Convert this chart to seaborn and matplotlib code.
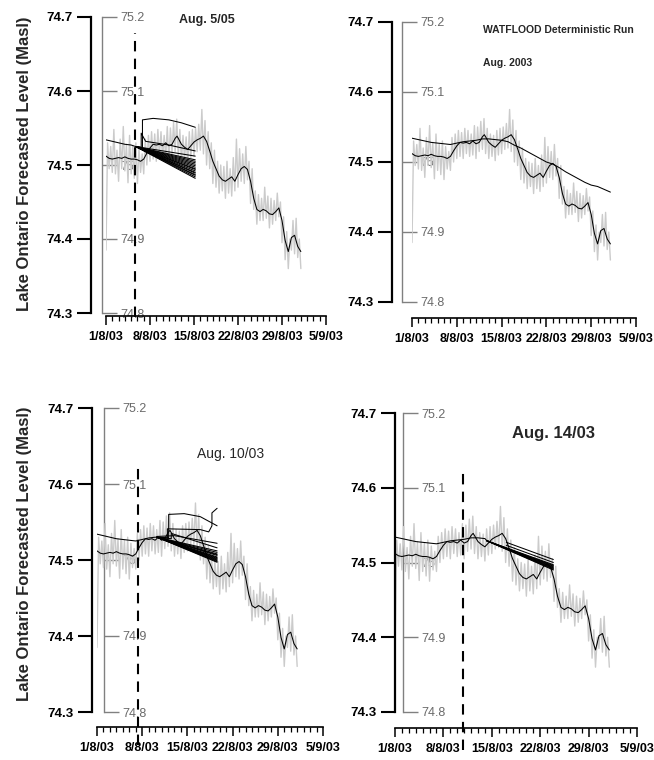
import numpy as np
import pandas as pd
import matplotlib
matplotlib.use("Agg")
import matplotlib.pyplot as plt
import seaborn as sns
from matplotlib.ticker import MultipleLocator, FuncFormatter, FixedLocator

sns.set_theme(style="ticks")
plt.rcParams["font.family"] = ["Liberation Sans", "DejaVu Sans"]

# ---------------- data (days since 1 Aug 2003 00:00) ----------------
obs_days = [0.0, 0.5, 1.0, 1.5, 2.0, 2.5, 3.0, 3.5, 4.0, 4.5, 5.0, 5.5, 6.0, 6.5, 7.0, 7.5,
            8.0, 8.5, 9.0, 9.5, 10.0, 10.5, 11.0, 11.3, 11.5, 12.0, 12.5, 13.0, 13.5, 14.0,
            14.5, 15.0, 15.5, 16.0, 16.5, 17.0, 17.5, 18.0, 18.5, 19.0, 19.5, 20.0, 20.5,
            21.0, 21.5, 22.0, 22.5, 23.0, 23.5, 24.0, 24.5, 25.0, 25.5, 26.0, 26.5, 27.0,
            27.5, 28.0, 28.5, 29.0, 29.5, 30.0, 30.5, 31.0]
obs_level = [74.512, 74.509, 74.508, 74.509, 74.510, 74.509, 74.511, 74.509, 74.508, 74.508,
             74.507, 74.505, 74.508, 74.516, 74.523, 74.528, 74.527, 74.528, 74.526, 74.530,
             74.526, 74.528, 74.536, 74.539, 74.536, 74.528, 74.524, 74.521, 74.526, 74.531,
             74.534, 74.536, 74.539, 74.532, 74.519, 74.505, 74.495, 74.485, 74.480, 74.478,
             74.481, 74.484, 74.478, 74.487, 74.495, 74.498, 74.494, 74.478, 74.455, 74.440,
             74.437, 74.440, 74.438, 74.434, 74.433, 74.437, 74.442, 74.425, 74.398, 74.383,
             74.402, 74.405, 74.390, 74.383]

det_days = list(range(32))
det_level = [74.534, 74.532, 74.530, 74.528, 74.527, 74.526, 74.525, 74.527, 74.529, 74.530,
             74.531, 74.533, 74.533, 74.532, 74.531, 74.529, 74.524, 74.520, 74.515, 74.510,
             74.505, 74.500, 74.497, 74.492, 74.486, 74.481, 74.476, 74.471, 74.467, 74.465,
             74.461, 74.457]

# hourly-ish observed record, sampled every 6 h
gray_level = [
    74.385, 74.530, 74.495, 74.525,  74.490, 74.548, 74.488, 74.520,
    74.478, 74.535, 74.495, 74.552,  74.492, 74.528, 74.476, 74.540,
    74.488, 74.526, 74.482, 74.530,  74.475, 74.522, 74.490, 74.515,
    74.488, 74.535, 74.500, 74.540,  74.505, 74.545, 74.508, 74.542,
    74.505, 74.548, 74.512, 74.545,  74.508, 74.540, 74.510, 74.552,
    74.505, 74.550, 74.515, 74.558,  74.518, 74.562, 74.512, 74.548,
    74.505, 74.540, 74.508, 74.538,  74.502, 74.545, 74.510, 74.548,
    74.512, 74.550, 74.518, 74.555,  74.520, 74.575, 74.515, 74.560,
    74.500, 74.545, 74.495, 74.530,  74.475, 74.520, 74.470, 74.505,
    74.462, 74.500, 74.465, 74.498,  74.455, 74.505, 74.462, 74.495,
    74.458, 74.510, 74.465, 74.535,  74.470, 74.522, 74.478, 74.515,
    74.475, 74.525, 74.480, 74.505,  74.448, 74.495, 74.440, 74.465,
    74.420, 74.460, 74.425, 74.455,  74.425, 74.470, 74.428, 74.458,
    74.415, 74.455, 74.420, 74.452,  74.425, 74.462, 74.430, 74.450,
    74.395, 74.430, 74.372, 74.410,  74.360, 74.400, 74.385, 74.425,
    74.380, 74.428, 74.375, 74.400,  74.360]
gray_days = np.arange(len(gray_level)) * 0.25

xtick_days = [0, 7, 14, 21, 28, 35]
xtick_labels = ["1/8/03", "8/8/03", "15/8/03", "22/8/03", "29/8/03", "5/9/03"]
left_ticks = [74.3, 74.4, 74.5, 74.6, 74.7]
right_ticks = [74.8, 74.9, 75.0, 75.1, 75.2]

# ensemble forecasts
fan1_start_day, fan1_start_level, fan1_end_day = 4.7, 74.525, 14.2
fan1_end_levels = [74.482, 74.484, 74.486, 74.487, 74.489, 74.490, 74.492, 74.494, 74.495,
                   74.497, 74.499, 74.501, 74.503, 74.505, 74.507, 74.512]
fan1_extra = [
    ([4.7, 5.8, 5.8, 7.5, 10.0, 12.0, 14.2], [74.525, 74.523, 74.561, 74.563, 74.561, 74.557, 74.551]),
    ([4.7, 5.6, 5.6, 6.3, 10.0, 14.2], [74.525, 74.524, 74.543, 74.532, 74.527, 74.519]),
]
fan3_start_day, fan3_start_level, fan3_end_day = 9.3, 74.530, 18.6
fan3_end_levels = [74.497, 74.498, 74.499, 74.500, 74.501, 74.502, 74.503, 74.504, 74.506,
                   74.507, 74.508, 74.510, 74.512]
fan3_extra = [
    ([9.3, 11.1, 11.1, 13.5, 16.0, 18.6], [74.530, 74.529, 74.560, 74.561, 74.557, 74.545]),
    ([9.3, 10.9, 10.9, 16.0, 17.3, 17.8, 17.8, 18.6],
     [74.530, 74.529, 74.541, 74.540, 74.537, 74.545, 74.562, 74.568]),
    ([9.3, 12.0, 18.6], [74.531, 74.532, 74.522]),
    ([9.3, 11.5, 11.5, 18.6], [74.530, 74.528, 74.535, 74.516]),
]
fan4_start_day, fan4_start_level, fan4_end_day = 13.3, 74.529, 22.9
fan4_end_levels = [74.490, 74.491, 74.492, 74.493, 74.494, 74.495, 74.496, 74.497]
fan4_extra = [
    ([16.1, 22.9], [74.527, 74.504]),
    ([16.1, 22.9], [74.523, 74.500]),
]

# ---------------- layout (pixels) ----------------
W, H = 654, 760
fig = plt.figure(figsize=(W / 100, H / 100), dpi=100)
fig.patch.set_facecolor("white")

panels = [
    # xl, xr, y74.7, y74.3, y_xaxis, black spine x, gray axis x
    dict(xl=106, xr=326, yt=17, y3=313, yb=316, xs=91, xg=102),
    dict(xl=412, xr=636, yt=22, y3=302, yb=318, xs=392, xg=402),
    dict(xl=97, xr=323, yt=408, y3=712, yb=727, xs=92, xg=104),
    dict(xl=395, xr=637, yt=413, y3=712, yb=728, xs=395, xg=403),
]
fans = [
    (fan1_start_day, fan1_start_level, fan1_end_day, fan1_end_levels, fan1_extra),
    None,
    (fan3_start_day, fan3_start_level, fan3_end_day, fan3_end_levels, fan3_extra),
    (fan4_start_day, fan4_start_level, fan4_end_day, fan4_end_levels, fan4_extra),
]
dashed = [(4.6, 74.678, 74.294), None, (6.35, 74.625, 74.257), (9.83, 74.621, 74.249)]

for i, p in enumerate(panels):
    ppu = (p["y3"] - p["yt"]) / 0.4
    ybot = 74.3 - (p["yb"] - p["y3"]) / ppu
    rect = [p["xl"] / W, 1 - p["yb"] / H, (p["xr"] - p["xl"]) / W, (p["yb"] - p["yt"]) / H]
    ax = fig.add_axes(rect)
    ax.set_facecolor("none")
    ax.set_xlim(0, 35)
    ax.set_ylim(ybot, 74.7)

    sns.lineplot(x=gray_days, y=gray_level, ax=ax, color="#cbcbcb", lw=1.0,
                 estimator=None, sort=False)
    sns.lineplot(x=obs_days, y=obs_level, ax=ax, color="black", lw=0.75,
                 estimator=None, sort=False)

    fan = fans[i]
    if fan is None:
        sns.lineplot(x=det_days, y=det_level, ax=ax, color="black", lw=0.75,
                     estimator=None, sort=False)
    else:
        sd, sl, ed, ends, extra = fan
        dd = [d for d in det_days if d <= sd] + [sd]
        dl = det_level[:len(dd) - 1] + [sl]
        sns.lineplot(x=dd, y=dl, ax=ax, color="black", lw=0.75, estimator=None, sort=False)
        rows = []
        m = 0
        for e in ends:
            rows += [(m, sd, sl), (m, ed, e)]
            m += 1
        for xs_, ys_ in extra:
            rows += [(m, a, b) for a, b in zip(xs_, ys_)]
            m += 1
        df = pd.DataFrame(rows, columns=["member", "day", "level"])
        sns.lineplot(data=df, x="day", y="level", units="member", estimator=None,
                     sort=False, color="black", lw=0.75, ax=ax, legend=False)

    if dashed[i] is not None:
        dx, dtop, dbot = dashed[i]
        ax.vlines(dx, dbot, dtop, colors="black", lw=1.5, linestyles=(0, (5, 3.5)),
                  clip_on=False, zorder=5)

    ax.set_xlabel("")
    ax.set_ylabel("")
    for s in ("top", "right"):
        ax.spines[s].set_visible(False)

    # black primary y axis
    width = p["xr"] - p["xl"]
    ax.spines["left"].set_position(("axes", (p["xs"] - p["xl"]) / width))
    ax.spines["left"].set_bounds(74.3, 74.7)
    ax.spines["left"].set_linewidth(1.6)
    ax.spines["left"].set_color("black")
    ax.yaxis.set_major_locator(FixedLocator(left_ticks))
    ax.yaxis.set_major_formatter(FuncFormatter(lambda v, pos: f"{v:.1f}"))
    ax.tick_params(axis="y", left=True, length=10, width=1.5, color="black",
                   labelsize=9.5, pad=3, labelcolor="black")
    for lbl in ax.get_yticklabels():
        lbl.set_fontweight("bold")

    # x axis
    ax.spines["bottom"].set_bounds(0, 35)
    ax.spines["bottom"].set_linewidth(1.2)
    ax.spines["bottom"].set_color("black")
    ax.xaxis.set_major_locator(FixedLocator(xtick_days))
    ax.set_xticklabels(xtick_labels, fontweight="bold")
    ax.xaxis.set_minor_locator(MultipleLocator(1))
    ax.tick_params(axis="x", which="major", bottom=True, length=6.5, width=1.1,
                   color="black", labelsize=9, pad=4, labelcolor="black")
    ax.tick_params(axis="x", which="minor", bottom=True, length=3.5, width=0.9, color="black")

    # gray secondary axis
    sec = ax.secondary_yaxis((p["xg"] - p["xl"]) / width,
                             functions=(lambda v: v + 0.5, lambda v: v - 0.5))
    sec.set_alignment("right")
    sec.spines["right"].set_bounds(74.8, 75.2)
    sec.spines["right"].set_color("#808080")
    sec.spines["right"].set_linewidth(1.0)
    sec.yaxis.set_major_locator(FixedLocator(right_ticks))
    sec.yaxis.set_major_formatter(FuncFormatter(lambda v, pos: f"{v:g}"))
    sec.tick_params(axis="y", right=True, left=False, labelright=True, labelleft=False,
                    length=11, width=1.0, color="#808080", labelcolor="#6a6a6a",
                    labelsize=9, pad=2)

# texts
def ftext(x, y, s, **kw):
    fig.text(x / W, 1 - y / H, s, **kw)

ylab = "Lake Ontario Forecasted Level (Masl)"
ftext(25, 164, ylab, rotation=90, ha="center", va="center", fontsize=12, fontweight="bold")
ftext(25, 554, ylab, rotation=90, ha="center", va="center", fontsize=12, fontweight="bold")
ftext(207, 20, "Aug. 5/05", ha="center", va="center", fontsize=9, fontweight="bold")
ftext(483, 30, "WATFLOOD Deterministic Run", ha="left", va="center", fontsize=7.5,
      fontweight="bold")
ftext(483, 63, "Aug. 2003", ha="left", va="center", fontsize=7.5, fontweight="bold")
ftext(231, 454, "Aug. 10/03", ha="center", va="center", fontsize=10)
ftext(554, 433, "Aug. 14/03", ha="center", va="center", fontsize=12, fontweight="bold")

fig.savefig("out.png", dpi=100, facecolor="white")
